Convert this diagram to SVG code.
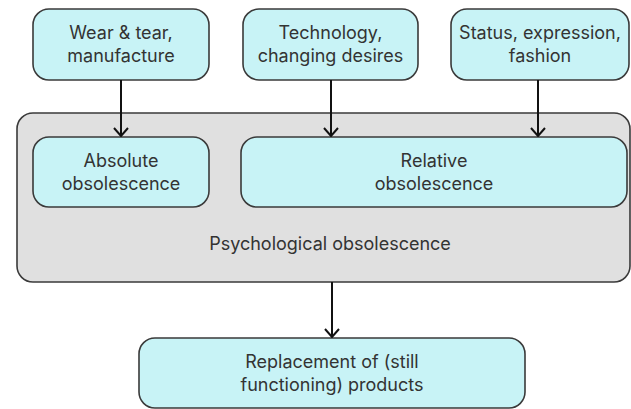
<svg xmlns="http://www.w3.org/2000/svg" width="631" height="409" viewBox="0 0 631 409">
  <style>
    .box { fill: #c8f3f6; stroke: #3a3a3a; stroke-width: 1.6; }
    .group { fill: #e0e0e0; stroke: #3a3a3a; stroke-width: 1.6; }
    .label { font-family: Inter, "Liberation Sans", sans-serif; font-size: 18px; fill: #333333; text-anchor: middle; }
    .edge { stroke: #111111; stroke-width: 2; fill: none; }
  </style>
  <defs>
    <!-- open chevron arrowhead, drawn pointing along +x -->
    <marker id="arrow" viewBox="0 0 10 16" refX="9" refY="8" markerWidth="10" markerHeight="16" markerUnits="userSpaceOnUse" orient="auto">
      <path d="M1,1 L9,8 L1,15" fill="none" stroke="#111111" stroke-width="2"/>
    </marker>
  </defs>

  <!-- container for both obsolescence kinds -->
  <g id="psychological">
    <rect class="group" x="17" y="113" width="613" height="169" rx="16"/>
    <text class="label" x="330" y="250">Psychological obsolescence</text>
  </g>

  <g id="wear">
    <rect class="box" x="33" y="9" width="176" height="71" rx="16"/>
    <text class="label" x="121" y="39">Wear &amp; tear,</text>
    <text class="label" x="121" y="62">manufacture</text>
  </g>

  <g id="technology">
    <rect class="box" x="243" y="9" width="175" height="71" rx="16"/>
    <text class="label" x="330.5" y="39">Technology,</text>
    <text class="label" x="330.5" y="62">changing desires</text>
  </g>

  <g id="status">
    <rect class="box" x="451" y="9" width="178" height="71" rx="16"/>
    <text class="label" x="540" y="39">Status, expression,</text>
    <text class="label" x="540" y="62">fashion</text>
  </g>

  <g id="absolute">
    <rect class="box" x="33" y="137" width="176" height="70" rx="16"/>
    <text class="label" x="121" y="166.5">Absolute</text>
    <text class="label" x="121" y="189.5">obsolescence</text>
  </g>

  <g id="relative">
    <rect class="box" x="241" y="137" width="386" height="70" rx="16"/>
    <text class="label" x="434" y="166.5">Relative</text>
    <text class="label" x="434" y="189.5">obsolescence</text>
  </g>

  <g id="replacement">
    <rect class="box" x="139" y="338" width="386" height="70" rx="16"/>
    <text class="label" x="332" y="367.5">Replacement of (still</text>
    <text class="label" x="332" y="390.5">functioning) products</text>
  </g>

  <g id="connectors">
    <line class="edge" x1="121" y1="80" x2="121" y2="136" marker-end="url(#arrow)"/>
    <line class="edge" x1="331" y1="80" x2="331" y2="136" marker-end="url(#arrow)"/>
    <line class="edge" x1="538" y1="80" x2="538" y2="136" marker-end="url(#arrow)"/>
    <line class="edge" x1="332" y1="282" x2="332" y2="337" marker-end="url(#arrow)"/>
  </g>
</svg>
